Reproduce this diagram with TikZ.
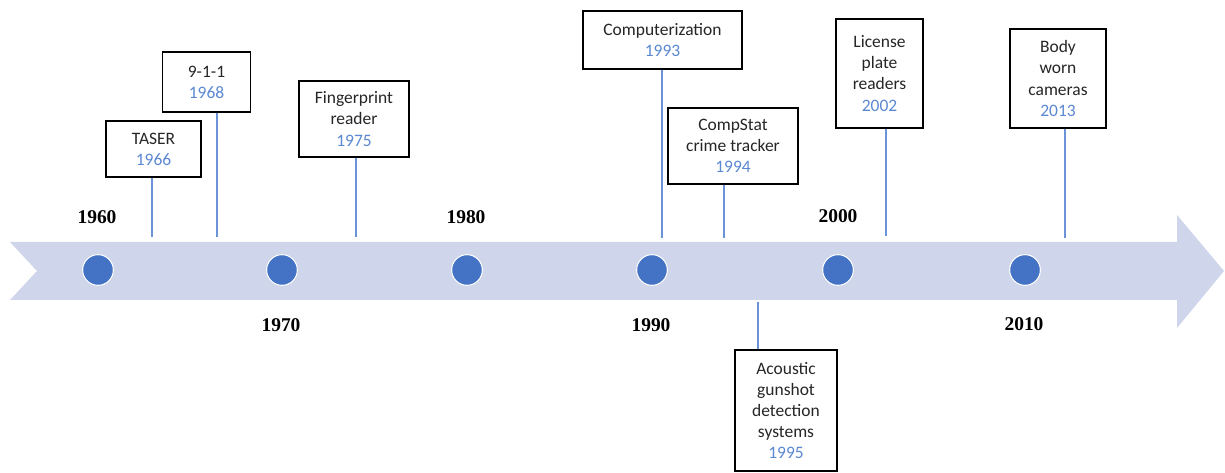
\documentclass[tikz,border=0pt]{standalone}
\usepackage{fontspec}
\setmainfont{Carlito}
\newfontfamily\yearfont{Liberation Serif}
\definecolor{band}{HTML}{CFD5EA}
\definecolor{dotblue}{HTML}{4472C4}
\definecolor{stemblue}{HTML}{6A93D8}
\definecolor{yrblue}{HTML}{5B88D2}
\definecolor{txt}{HTML}{262626}
\tikzset{
  evbox/.style={draw=black, line width=1.2pt, fill=white, inner sep=0pt, align=center,
     text=txt, font=\fontsize{13.1}{15.8}\selectfont},
  stem/.style={draw=stemblue, line width=1.5pt},
  dot/.style={circle, fill=dotblue, draw=white, line width=0.8pt, minimum size=23pt, inner sep=0pt},
  decade/.style={font=\yearfont\bfseries\fontsize{14.6}{16}\selectfont, text=black, inner sep=0pt}
}
\newcommand{\yr}[1]{\textcolor{yrblue}{#1}}
\begin{document}
\begin{tikzpicture}[x=0.75pt,y=-0.75pt]
\useasboundingbox (0,0) rectangle (1225,473);
% band arrow
\fill[band] (10,242) -- (1177,242) -- (1177,215) -- (1224,271) -- (1177,328) -- (1177,300) -- (10,300) -- (37,271) -- cycle;
% dots
\foreach \i/\x in {0/98,1/282,2/467,3/652,4/838,5/1025}{
  \node[dot] (d\i) at (\x,270) {};
}
% decade labels
\node[decade] (y1960) at (97,217) {1960};
\node[decade] (y1970) at (281,325) {1970};
\node[decade] (y1980) at (466,217) {1980};
\node[decade] (y1990) at (651,325) {1990};
\node[decade] (y2000) at (838,216) {2000};
\node[decade] (y2010) at (1024,324) {2010};
% event boxes
\node[evbox, minimum width=71.25pt, minimum height=42pt] (taser) at (153.5,149) {TASER\\\yr{1966}};
\node[evbox, minimum width=66pt, minimum height=45pt] (nine) at (206.5,82) {9-1-1\\\yr{1968}};
\node[evbox, minimum width=82.5pt, minimum height=57pt] (finger) at (354,119) {Fingerprint\\reader\\\yr{1975}};
\node[evbox, minimum width=119.25pt, minimum height=43.5pt] (comp) at (662.5,40) {Computerization\\\yr{1993}};
\node[evbox, minimum width=97.5pt, minimum height=57pt] (cstat) at (733,146) {CompStat\\crime tracker\\\yr{1994}};
\node[evbox, minimum width=65.25pt, minimum height=81.75pt] (lpr) at (879.5,73.5) {License\\plate\\readers\\\yr{2002}};
\node[evbox, minimum width=72pt, minimum height=74.25pt] (body) at (1058,78.5) {Body\\worn\\cameras\\\yr{2013}};
\node[evbox, minimum width=76.5pt, minimum height=90.75pt] (acou) at (786,410.5) {Acoustic\\gunshot\\detection\\systems\\\yr{1995}};
% stems
\coordinate (s1) at (152,237);
\coordinate (s2) at (217,237);
\coordinate (s3) at (356,237);
\coordinate (s4) at (662,238);
\coordinate (s5) at (724,238);
\coordinate (s6) at (886,236);
\coordinate (s7) at (1065,238);
\coordinate (s8) at (758,302);
\draw[stem] (s1) -- (s1 |- taser.south);
\draw[stem] (s2) -- (s2 |- nine.south);
\draw[stem] (s3) -- (s3 |- finger.south);
\draw[stem] (s4) -- (s4 |- comp.south);
\draw[stem] (s5) -- (s5 |- cstat.south);
\draw[stem] (s6) -- (s6 |- lpr.south);
\draw[stem] (s7) -- (s7 |- body.south);
\draw[stem] (s8) -- (s8 |- acou.north);
\end{tikzpicture}
\end{document}
